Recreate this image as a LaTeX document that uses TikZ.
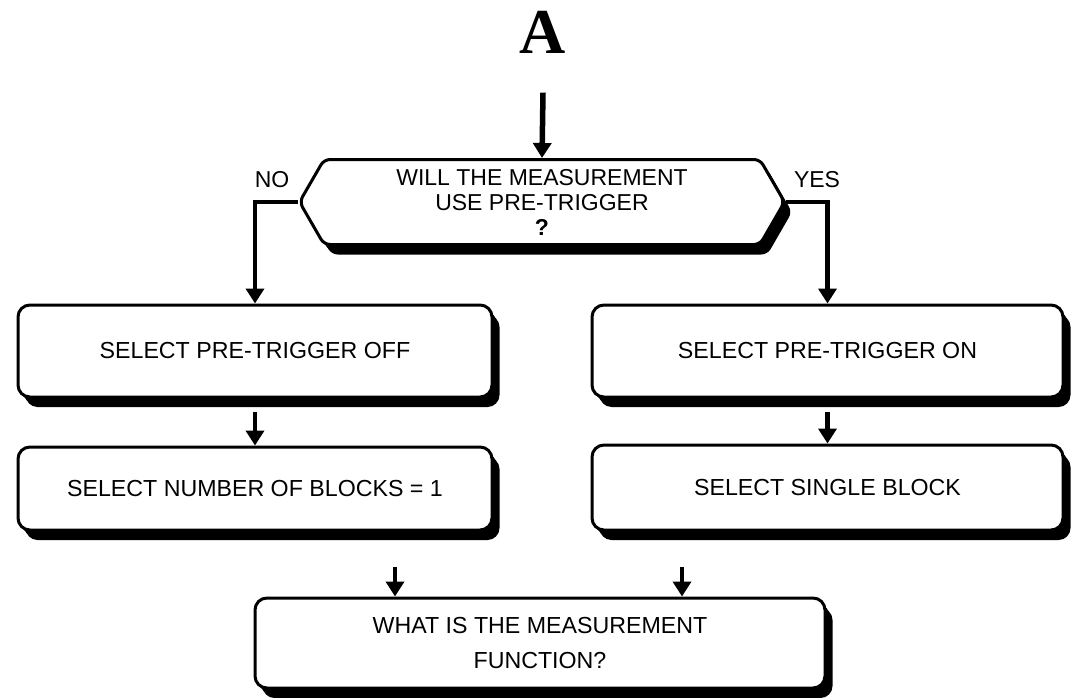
\documentclass[tikz,border=0pt]{standalone}
\usepackage{fontspec}
\setmainfont{Liberation Sans}
\newfontfamily\titlefont{Liberation Serif}
\usetikzlibrary{arrows.meta,shapes.symbols,shadows}

\tikzset{
  solid3d/.style={
    drop shadow={shadow xshift=2.5pt,shadow yshift=-3.3pt,opacity=1,fill=black},
    drop shadow={shadow xshift=5pt,shadow yshift=-6.6pt,opacity=1,fill=black},
    drop shadow={shadow xshift=7.5pt,shadow yshift=-10pt,opacity=1,fill=black}},
  box/.style={draw,line width=3pt,fill=white,rounded corners=12pt,solid3d,
    align=center,font=\fontsize{23.2}{26}\selectfont},
  arr/.style={line width=4.5pt,-{Triangle[width=18pt,length=15pt]}},
  lbl/.style={font=\fontsize{23}{26}\selectfont},
}

\begin{document}
\begin{tikzpicture}[x=1pt,y=-1pt]
    \useasboundingbox (0,0) rectangle (1078,698);
    \node[font=\titlefont\bfseries\fontsize{64}{64}\selectfont] (ttl) at (543,32) {A};
    \node[box,signal,signal to=west and east,signal pointer angle=120,
      rounded corners=6pt,minimum width=485pt,minimum height=85pt,
      font=\fontsize{23}{25}\selectfont] (ask) at (542,202)
      {WILL THE MEASUREMENT\\USE PRE-TRIGGER\\\textbf{?}};
    \node[lbl] (no) at (272,180) {NO};
    \node[lbl] (yes) at (817,180) {YES};
    \node[box,minimum width=474pt,minimum height=92pt] (offL) at (255,351) {SELECT PRE-TRIGGER OFF};
    \node[box,minimum width=471pt,minimum height=92pt] (onR) at (827.5,351) {SELECT PRE-TRIGGER ON};
    \node[box,minimum width=474pt,minimum height=83pt] (blkL) at (255,488.5) {SELECT NUMBER OF BLOCKS = 1};
    \node[box,minimum width=471pt,minimum height=85pt] (blkR) at (827.5,487.5) {SELECT SINGLE BLOCK};
    \node[box,minimum width=570pt,minimum height=90pt,font=\fontsize{23.2}{35}\selectfont] (func) at (540,643)
      {WHAT IS THE MEASUREMENT\\FUNCTION?};
    \draw[arr,line width=5.5pt] ([yshift=-36pt]ttl.south) -- (ask.north);
    \draw[arr] (ask.west) -| (offL.north);
    \draw[arr] (ask.east) -| (onR.north);
    \draw[arr] ([yshift=-13pt]offL.south) -- (blkL.north);
    \draw[arr] ([yshift=-13pt]onR.south) -- (blkR.north);
    \draw[arr] ([xshift=140pt,yshift=-35pt]blkL.south) -- ([xshift=140pt]blkL.south |- func.north);
    \draw[arr] ([xshift=-145.5pt,yshift=-35pt]blkR.south) -- ([xshift=-145.5pt]blkR.south |- func.north);
\end{tikzpicture}
\end{document}
